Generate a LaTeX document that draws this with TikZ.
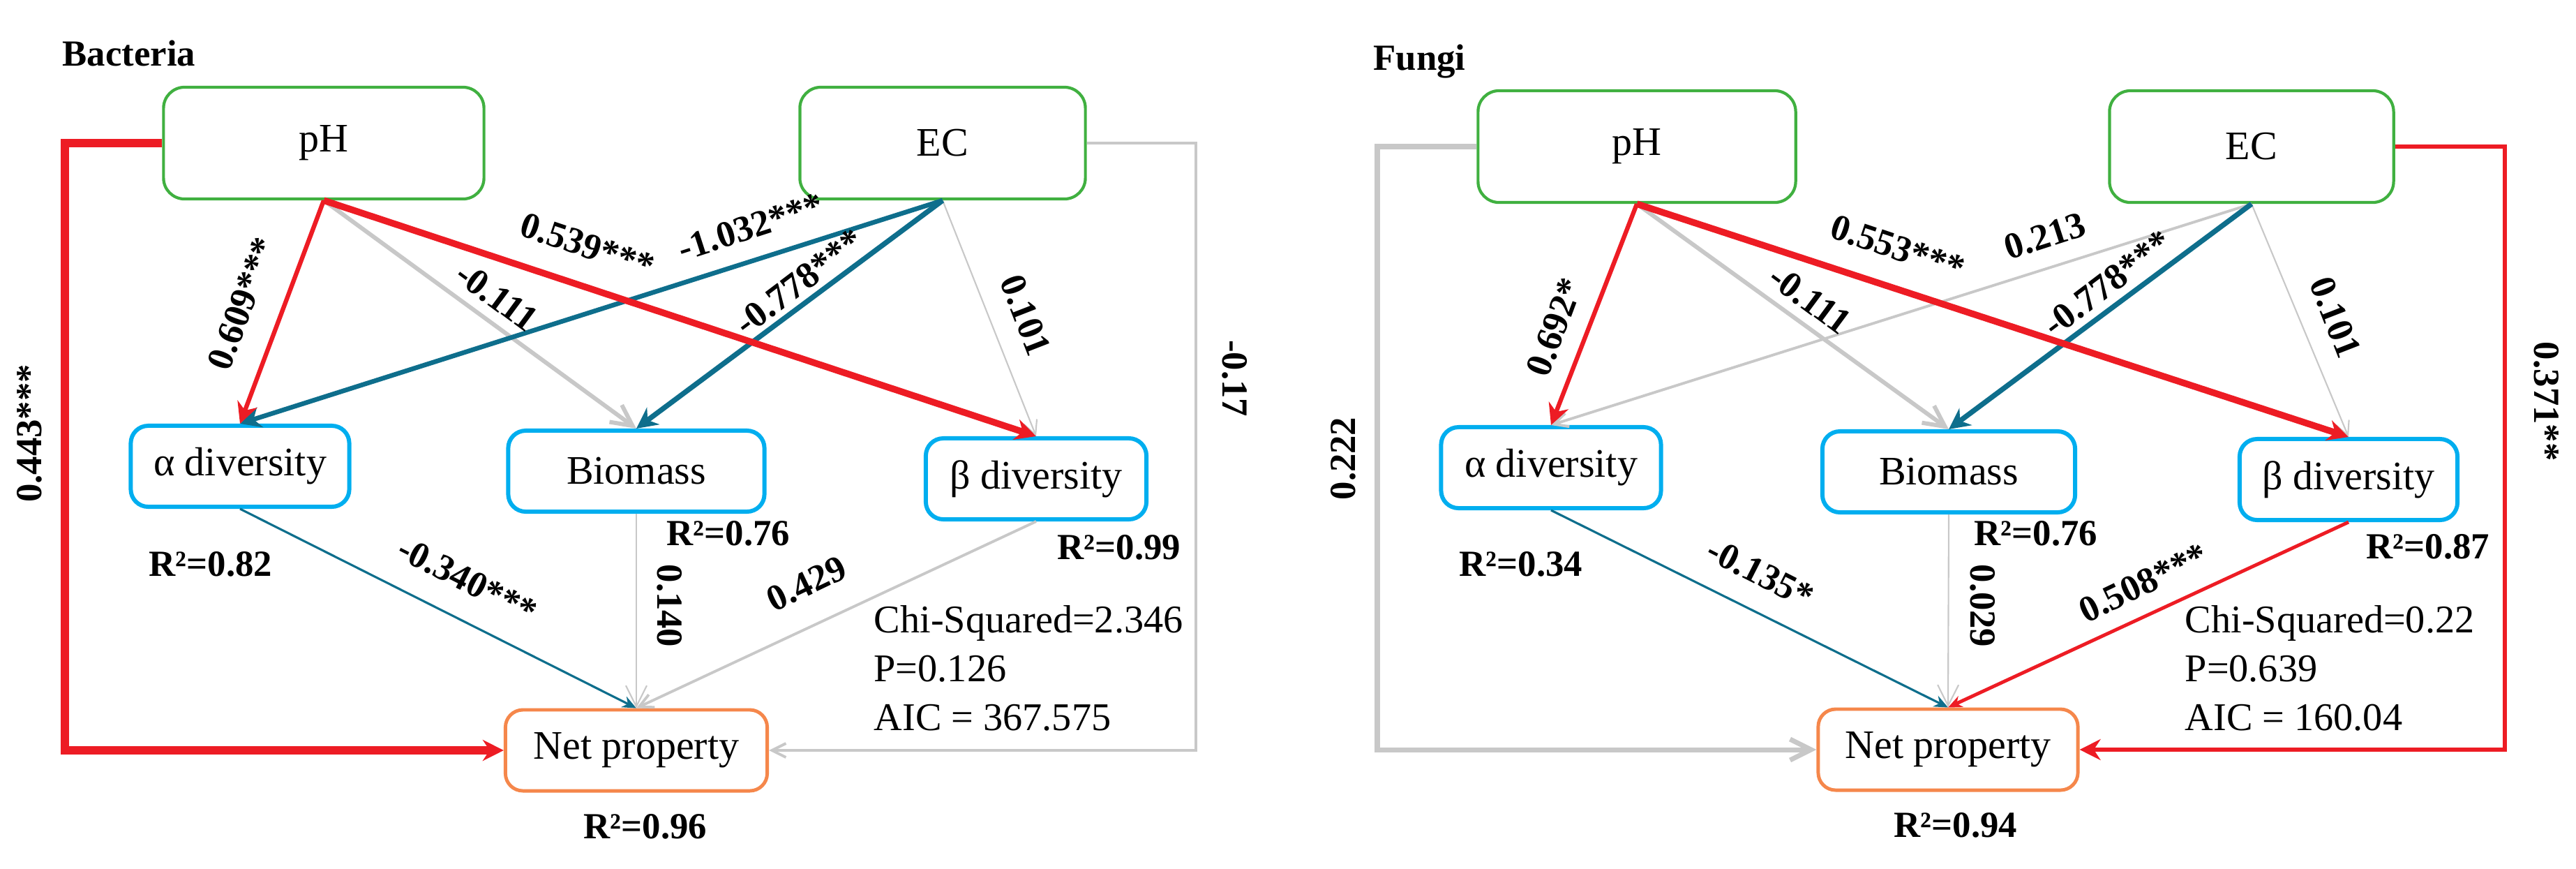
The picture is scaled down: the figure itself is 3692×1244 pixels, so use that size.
\documentclass[tikz,border=0pt]{standalone}
\usepackage{fontspec}
\setmainfont{Liberation Serif}
\usetikzlibrary{arrows.meta}
\definecolor{cred}{RGB}{237,28,36}
\definecolor{cteal}{RGB}{14,110,140}
\definecolor{cgrey}{RGB}{200,200,200}
\definecolor{cgreen}{RGB}{64,176,64}
\definecolor{ccyan}{RGB}{0,174,239}
\definecolor{corange}{RGB}{245,135,75}
\begin{document}
\begin{tikzpicture}[x=0.01cm,y=-0.01cm,
  box/.style={draw, fill=white, inner sep=0pt, font=\fontsize{16.5}{19}\selectfont},
  topbox/.style={box, draw=cgreen, line width=1.2pt, minimum height=1.6cm, rounded corners=0.3cm},
  midbox/.style={box, draw=ccyan, line width=1.7pt, minimum height=1.16cm, rounded corners=0.25cm},
  netbox/.style={box, draw=corange, line width=1.4pt, minimum height=1.16cm, rounded corners=0.25cm},
  lbl/.style={font=\bfseries\fontsize{15}{18}\selectfont, inner sep=0pt},
  ttl/.style={font=\bfseries\fontsize{15}{18}\selectfont, inner sep=0pt, anchor=base west},
  stat/.style={font=\fontsize{16}{19}\selectfont, inner sep=0pt, anchor=base west},
  hst/.style={-{Stealth[length=0.3cm,width=0.3cm]}},
  hsm/.style={-{Stealth[length=0.2cm,width=0.17cm]}},
  hbarb/.style={-{Straight Barb[length=0.3cm,width=0.3cm]}},
  hbsm/.style={-{Straight Barb[length=0.2cm,width=0.2cm]}},
]
\useasboundingbox (0,0) rectangle (3692,1244);
% ================= Bacteria =================
\node[ttl] (bt) at (89,94) {Bacteria};
\node[topbox, minimum width=4.59cm] (bpH) at (464,205) {pH};
\node[topbox, minimum width=4.09cm] (bEC) at (1351,205) {EC};
\node[midbox, minimum width=3.13cm] (ba) at (344,668) {α diversity};
\node[midbox, minimum width=3.67cm] (bbio) at (912,675) {Biomass};
\node[midbox, minimum width=3.16cm] (bb) at (1485,686) {β diversity};
\node[netbox, minimum width=3.75cm] (bnet) at (912,1075) {Net property};
\coordinate (bL) at (93,640);
\coordinate (bR) at (1714,640);
% side connectors
\draw[cred, line width=3.2pt, hst] (bpH.west) -| (bL) |- (bnet.west);
\draw[cgrey, line width=1.1pt, hbsm] (bEC.east) -| (bR) |- (bnet.east);
% upper paths
\draw[cgrey, line width=1.7pt, hbarb] (bpH.south) -- (bbio.north);
\draw[cgrey, line width=0.6pt, hbsm] (bEC.south) -- (bb.north);
\draw[cteal, line width=1.9pt, hst] (bEC.south) -- (ba.north);
\draw[cteal, line width=2.1pt, hst] (bEC.south) -- (bbio.north);
\draw[cred, line width=1.8pt, hst] (bpH.south) -- (ba.north);
\draw[cred, line width=2.7pt, hst] (bpH.south) -- (bb.north);
% lower paths
\draw[cteal, line width=0.9pt, hsm] (ba.south) -- (bnet.north);
\draw[cgrey, line width=0.6pt, hbarb] (bbio.south) -- (bnet.north);
\draw[cgrey, line width=1.1pt, hbsm] (bb.south) -- (bnet.north);
% labels
\node[lbl, rotate=90] (bl1) at (42,621) {0.443***};
\node[lbl, rotate=69.6] (bl2) at (347,435) {0.609***};
\node[lbl, rotate=-36.5] (bl3) at (712,425) {-0.111};
\node[lbl, rotate=-18.6] (bl4) at (842,352) {0.539***};
\node[lbl, rotate=17.9] (bl5) at (1076,325) {-1.032***};
\node[lbl, rotate=37.1] (bl6) at (1145,404) {-0.778***};
\node[lbl, rotate=-68.7] (bl7) at (1470,452) {0.101};
\node[lbl, rotate=-90] (bl8) at (1770,542) {-0.17};
\node[lbl, rotate=-27] (bl9) at (670,831) {-0.340***};
\node[lbl, rotate=-90] (bl10) at (960,868) {0.140};
\node[lbl, rotate=25.6] (bl11) at (1156,836) {0.429};
\node[lbl] (br1) at (302,808) {R²=0.82};
\node[lbl] (br2) at (1044,764) {R²=0.76};
\node[lbl] (br3) at (1604,784) {R²=0.99};
\node[lbl] (br4) at (925,1184) {R²=0.96};
\node[stat] (bs1) at (1252,906) {Chi-Squared=2.346};
\node[stat] (bs2) at (1252,976) {P=0.126};
\node[stat] (bs3) at (1252,1046) {AIC = 367.575};
% ================= Fungi =================
\begin{scope}[shift={(1880,4)}]
\node[ttl] (ft) at (88,96) {Fungi};
\node[topbox, minimum width=4.55cm] (fpH) at (466,206) {pH};
\node[topbox, minimum width=4.07cm] (fEC) at (1347,206) {EC};
\node[midbox, minimum width=3.15cm] (fa) at (343,666) {α diversity};
\node[midbox, minimum width=3.62cm] (fbio) at (913,672) {Biomass};
\node[midbox, minimum width=3.12cm] (fb) at (1486,683) {β diversity};
\node[netbox, minimum width=3.72cm] (fnet) at (912,1070) {Net property};
\coordinate (fL) at (94,640);
\coordinate (fR) at (1710,640);
\draw[cgrey, line width=2pt, hbarb] (fpH.west) -| (fL) |- (fnet.west);
\draw[cred, line width=1.7pt, hst] (fEC.east) -| (fR) |- (fnet.east);
\draw[cgrey, line width=1.7pt, hbarb] (fpH.south) -- (fbio.north);
\draw[cgrey, line width=0.6pt, hbsm] (fEC.south) -- (fb.north);
\draw[cgrey, line width=1.1pt, hbsm] (fEC.south) -- (fa.north);
\draw[cteal, line width=2.1pt, hst] (fEC.south) -- (fbio.north);
\draw[cred, line width=1.8pt, hst] (fpH.south) -- (fa.north);
\draw[cred, line width=2.7pt, hst] (fpH.south) -- (fb.north);
\draw[cteal, line width=0.9pt, hsm] (fa.south) -- (fnet.north);
\draw[cgrey, line width=0.6pt, hbarb] (fbio.south) -- (fnet.north);
\draw[cred, line width=1.4pt, hsm] (fb.south) -- (fnet.north);
\node[lbl, rotate=90] (fl1) at (45,653) {0.222};
\node[lbl, rotate=69.6] (fl2) at (348,465) {0.692*};
\node[lbl, rotate=-36.5] (fl3) at (714,425) {-0.111};
\node[lbl, rotate=-18.6] (fl4) at (840,351) {0.553***};
\node[lbl, rotate=17.9] (fl5) at (1051,334) {0.213};
\node[lbl, rotate=37.1] (fl6) at (1140,402) {-0.778***};
\node[lbl, rotate=-68.7] (fl7) at (1467,451) {0.101};
\node[lbl, rotate=-90] (fl8) at (1770,571) {0.371**};
\node[lbl, rotate=-27] (fl9) at (643,817) {-0.135*};
\node[lbl, rotate=-90] (fl10) at (962,864) {0.029};
\node[lbl, rotate=25.6] (fl11) at (1192,831) {0.508***};
\node[lbl] (fr1) at (300,804) {R²=0.34};
\node[lbl] (fr2) at (1038,760) {R²=0.76};
\node[lbl] (fr3) at (1600,779) {R²=0.87};
\node[lbl] (fr4) at (923,1178) {R²=0.94};
\node[stat] (fs1) at (1251,902) {Chi-Squared=0.22};
\node[stat] (fs2) at (1251,972) {P=0.639};
\node[stat] (fs3) at (1251,1042) {AIC = 160.04};
\end{scope}
\end{tikzpicture}
\end{document}
